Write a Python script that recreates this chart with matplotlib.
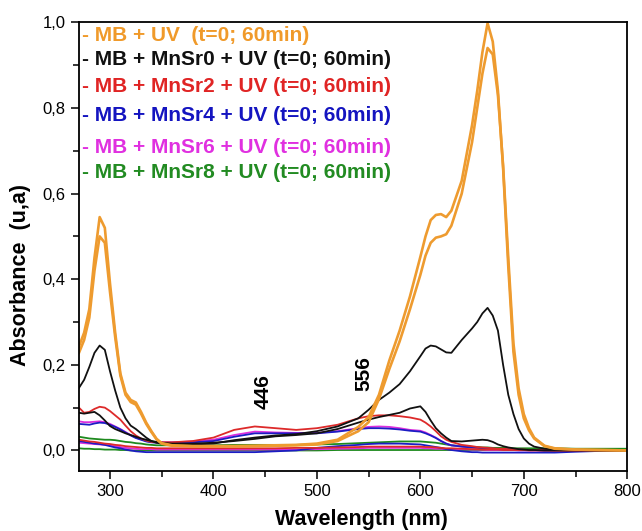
import matplotlib
matplotlib.use("Agg")
import matplotlib.pyplot as plt
from matplotlib.ticker import MultipleLocator, FuncFormatter

plt.rcParams['font.family'] = ['Liberation Sans', 'DejaVu Sans']

# Wavelength grid (nm) shared by all spectra
wl = [270, 275, 280, 285, 290, 295, 300, 305, 310, 315,
      320, 325, 330, 335, 340, 345, 350, 360, 380, 400,
      420, 440, 460, 480, 500, 520, 540, 550, 560, 570,
      580, 590, 600, 605, 610, 615, 620, 625, 630, 640,
      650, 655, 660, 665, 670, 675, 680, 685, 690, 695,
      700, 705, 710, 720, 730, 750, 775, 800]

# MB + UV
mb_t0 = [0.243, 0.275, 0.33, 0.45, 0.545, 0.52, 0.39, 0.275, 0.18, 0.135,
         0.118, 0.112, 0.09, 0.065, 0.045, 0.027, 0.017, 0.012, 0.01, 0.01,
         0.01, 0.011, 0.012, 0.013, 0.016, 0.025, 0.055, 0.078, 0.13, 0.21,
         0.28, 0.36, 0.452, 0.50, 0.538, 0.55, 0.552, 0.545, 0.56, 0.63,
         0.76, 0.84, 0.93, 0.998, 0.955, 0.84, 0.66, 0.43, 0.23, 0.13,
         0.075, 0.047, 0.028, 0.01, 0.004, 0.002, 0.001, 0.0]
mb_t60 = [0.228, 0.258, 0.31, 0.42, 0.50, 0.485, 0.37, 0.265, 0.175, 0.13,
          0.113, 0.107, 0.086, 0.062, 0.043, 0.026, 0.016, 0.011, 0.01, 0.01,
          0.01, 0.01, 0.011, 0.012, 0.014, 0.022, 0.045, 0.066, 0.12, 0.19,
          0.255, 0.33, 0.41, 0.455, 0.485, 0.497, 0.5, 0.505, 0.525, 0.6,
          0.72, 0.8, 0.88, 0.94, 0.925, 0.83, 0.665, 0.45, 0.25, 0.145,
          0.085, 0.052, 0.03, 0.011, 0.005, 0.002, 0.001, 0.0]

# MB + MnSr0 + UV
sr0_t0 = [0.146, 0.165, 0.195, 0.228, 0.245, 0.235, 0.185, 0.14, 0.1, 0.075,
          0.058, 0.05, 0.04, 0.03, 0.022, 0.018, 0.016, 0.014, 0.014, 0.016,
          0.024, 0.03, 0.035, 0.038, 0.045, 0.056, 0.075, 0.095, 0.118, 0.135,
          0.155, 0.185, 0.22, 0.238, 0.245, 0.243, 0.236, 0.229, 0.228, 0.258,
          0.285, 0.3, 0.32, 0.333, 0.315, 0.28, 0.2, 0.13, 0.085, 0.05,
          0.028, 0.016, 0.009, 0.004, 0.002, 0.001, 0.0, 0.0]
sr0_t60 = [0.088, 0.086, 0.088, 0.09, 0.082, 0.07, 0.057, 0.05, 0.045, 0.04,
           0.036, 0.032, 0.028, 0.025, 0.022, 0.02, 0.018, 0.016, 0.016, 0.018,
           0.022, 0.027, 0.033, 0.036, 0.04, 0.05, 0.065, 0.072, 0.078, 0.083,
           0.088, 0.098, 0.103, 0.09, 0.07, 0.052, 0.04, 0.03, 0.022, 0.021,
           0.023, 0.024, 0.025, 0.024, 0.02, 0.014, 0.01, 0.007, 0.005, 0.003,
           0.002, 0.001, 0.001, 0.0, 0.0, 0.0, 0.0, 0.0]

# MB + MnSr2 + UV
sr2_t0 = [0.1, 0.088, 0.09, 0.097, 0.102, 0.1, 0.092, 0.082, 0.072, 0.058,
          0.045, 0.035, 0.028, 0.023, 0.02, 0.019, 0.019, 0.019, 0.022, 0.03,
          0.048, 0.056, 0.052, 0.048, 0.052, 0.06, 0.075, 0.08, 0.082, 0.082,
          0.08, 0.077, 0.072, 0.065, 0.056, 0.045, 0.033, 0.025, 0.02, 0.013,
          0.01, 0.008, 0.007, 0.006, 0.005, 0.004, 0.004, 0.003, 0.003, 0.002,
          0.002, 0.001, 0.001, 0.001, 0.0, 0.0, 0.0, 0.0]
sr2_t60 = [0.025, 0.023, 0.021, 0.02, 0.018, 0.016, 0.015, 0.013, 0.012, 0.01,
           0.009, 0.008, 0.007, 0.006, 0.006, 0.005, 0.005, 0.005, 0.005, 0.005,
           0.005, 0.005, 0.005, 0.006, 0.006, 0.007, 0.008, 0.009, 0.009, 0.009,
           0.009, 0.009, 0.009, 0.008, 0.008, 0.007, 0.006, 0.005, 0.005, 0.004,
           0.003, 0.003, 0.002, 0.002, 0.002, 0.002, 0.001, 0.001, 0.001, 0.001,
           0.001, 0.0, 0.0, 0.0, 0.0, 0.0, 0.0, 0.0]

# MB + MnSr4 + UV
sr4_t0 = [0.062, 0.061, 0.06, 0.063, 0.065, 0.064, 0.06, 0.055, 0.049, 0.042,
          0.035, 0.029, 0.025, 0.021, 0.019, 0.018, 0.018, 0.018, 0.019, 0.022,
          0.032, 0.04, 0.04, 0.04, 0.04, 0.044, 0.05, 0.052, 0.052, 0.051,
          0.049, 0.046, 0.044, 0.04, 0.035, 0.029, 0.022, 0.016, 0.012, 0.009,
          0.007, 0.006, 0.005, 0.004, 0.004, 0.003, 0.003, 0.002, 0.002, 0.002,
          0.001, 0.001, 0.001, 0.0, 0.0, 0.0, 0.0, 0.0]
sr4_t60 = [0.022, 0.02, 0.018, 0.016, 0.015, 0.013, 0.01, 0.007, 0.005, 0.002,
           0.0, -0.002, -0.003, -0.004, -0.004, -0.004, -0.004, -0.004, -0.004, -0.004,
           -0.004, -0.004, -0.002, 0.0, 0.006, 0.01, 0.013, 0.015, 0.016, 0.016,
           0.016, 0.015, 0.014, 0.012, 0.01, 0.008, 0.006, 0.003, 0.001, -0.002,
           -0.004, -0.004, -0.005, -0.005, -0.005, -0.005, -0.005, -0.005, -0.005, -0.005,
           -0.005, -0.005, -0.005, -0.005, -0.005, -0.003, -0.001, 0.0]

# MB + MnSr6 + UV
sr6_t0 = [0.068, 0.066, 0.066, 0.067, 0.068, 0.066, 0.062, 0.056, 0.05, 0.043,
          0.036, 0.03, 0.026, 0.022, 0.02, 0.019, 0.019, 0.019, 0.021, 0.025,
          0.036, 0.044, 0.042, 0.041, 0.041, 0.045, 0.052, 0.055, 0.056, 0.055,
          0.052, 0.048, 0.046, 0.042, 0.036, 0.03, 0.022, 0.016, 0.012, 0.009,
          0.007, 0.006, 0.005, 0.004, 0.004, 0.003, 0.003, 0.002, 0.002, 0.002,
          0.001, 0.001, 0.001, 0.0, 0.0, 0.0, 0.0, 0.0]
sr6_t60 = [0.018, 0.017, 0.016, 0.015, 0.014, 0.013, 0.012, 0.01, 0.008, 0.006,
           0.005, 0.004, 0.003, 0.003, 0.003, 0.002, 0.002, 0.002, 0.002, 0.002,
           0.002, 0.002, 0.002, 0.002, 0.003, 0.004, 0.005, 0.006, 0.006, 0.006,
           0.006, 0.006, 0.006, 0.005, 0.005, 0.004, 0.004, 0.003, 0.003, 0.003,
           0.002, 0.002, 0.002, 0.001, 0.001, 0.001, 0.001, 0.001, 0.001, 0.0,
           0.0, 0.0, 0.0, 0.0, 0.0, 0.0, 0.0, 0.0]

# MB + MnSr8 + UV
sr8_t0 = [0.032, 0.03, 0.028, 0.027, 0.026, 0.025, 0.025, 0.024, 0.022, 0.02,
          0.019, 0.017, 0.016, 0.014, 0.013, 0.012, 0.012, 0.012, 0.012, 0.012,
          0.013, 0.013, 0.013, 0.013, 0.014, 0.015, 0.017, 0.018, 0.019, 0.02,
          0.021, 0.021, 0.021, 0.02, 0.019, 0.018, 0.016, 0.014, 0.012, 0.01,
          0.008, 0.008, 0.007, 0.007, 0.006, 0.006, 0.006, 0.006, 0.005, 0.005,
          0.005, 0.005, 0.005, 0.005, 0.005, 0.004, 0.004, 0.004]
sr8_t60 = [0.005, 0.004, 0.004, 0.003, 0.003, 0.002, 0.002, 0.002, 0.001, 0.001,
           0.0, 0.0, 0.0, 0.0, 0.0, 0.0, 0.0, 0.0, 0.0, 0.0,
           0.0, 0.0, 0.0, 0.0, 0.0, 0.001, 0.001, 0.001, 0.001, 0.001,
           0.001, 0.001, 0.001, 0.001, 0.001, 0.001, 0.001, 0.001, 0.001, 0.001,
           0.001, 0.001, 0.001, 0.001, 0.001, 0.001, 0.001, 0.001, 0.001, 0.001,
           0.001, 0.001, 0.001, 0.001, 0.001, 0.001, 0.001, 0.001]

labels = ["- MB + UV  (t=0; 60min)",
          "- MB + MnSr0 + UV (t=0; 60min)",
          "- MB + MnSr2 + UV (t=0; 60min)",
          "- MB + MnSr4 + UV (t=0; 60min)",
          "- MB + MnSr6 + UV (t=0; 60min)",
          "- MB + MnSr8 + UV (t=0; 60min)"]
line_colors = ['#EE9B2F', '#111111', '#DD2A2A', '#1C1CC4', '#DD2EDD', '#1E8A1E']
text_colors = ['#F09A2A', '#111111', '#E02424', '#1414C0', '#E030E0', '#228B22']
label_y = [0.971, 0.917, 0.857, 0.793, 0.722, 0.666]  # axes fraction of each label row

series = [(mb_t0, mb_t60), (sr0_t0, sr0_t60), (sr2_t0, sr2_t60),
          (sr4_t0, sr4_t60), (sr6_t0, sr6_t60), (sr8_t0, sr8_t60)]

fig = plt.figure(figsize=(6.42, 5.31), dpi=100)
ax = fig.add_axes([0.123, 0.113, 0.854, 0.845])

# low curves first, dye reference on top
for i in [5, 4, 3, 2, 1, 0]:
    lw = 1.9 if i == 0 else 1.3
    for spec in series[i]:
        ax.plot(wl, spec, color=line_colors[i], lw=lw)

for lab, col, y in zip(labels, text_colors, label_y):
    ax.text(0.006, y, lab, transform=ax.transAxes, color=col, fontsize=15,
            fontweight='bold', va='center', ha='left')

# band positions
ax.text(448.5, 0.137, "446", rotation=90, fontsize=15, fontweight='bold',
        ha='center', va='center')
ax.text(545.5, 0.179, "556", rotation=90, fontsize=15, fontweight='bold',
        ha='center', va='center')

ax.set_xlim(270, 800)
ax.set_ylim(-0.048, 1.0)
ax.xaxis.set_major_locator(MultipleLocator(100))
ax.xaxis.set_minor_locator(MultipleLocator(50))
ax.yaxis.set_major_locator(MultipleLocator(0.2))
ax.yaxis.set_minor_locator(MultipleLocator(0.1))
ax.yaxis.set_major_formatter(FuncFormatter(lambda v, p: f"{v:.1f}".replace('.', ',')))
ax.tick_params(which='major', direction='out', length=6, width=1.1, labelsize=12)
ax.tick_params(which='minor', direction='out', length=4, width=1.1)
for sp in ax.spines.values():
    sp.set_linewidth(1.3)

ax.set_xlabel("Wavelength (nm)", fontsize=15.5, fontweight='bold')
ax.set_ylabel("Absorbance  (u,a)", fontsize=15.5, fontweight='bold')
ax.xaxis.set_label_coords(0.515, -0.085)
ax.yaxis.set_label_coords(-0.088, 0.437)

fig.savefig("out.png", dpi=100)
